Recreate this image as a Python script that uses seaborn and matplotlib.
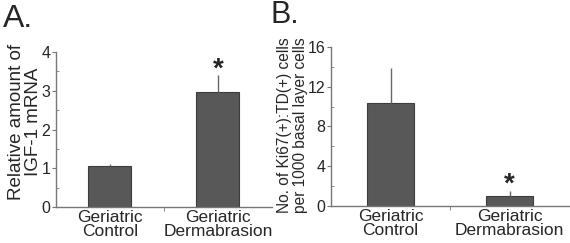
import numpy as np
import pandas as pd
import seaborn as sns
import matplotlib.pyplot as plt
from matplotlib.ticker import MultipleLocator

groups = ["Geriatric\nControl", "Geriatric\nDermabrasion"]
igf1_mean = [1.05, 2.97]
igf1_err = [0.05, 0.43]
ki67_mean = [10.35, 1.05]
ki67_err = [3.55, 0.45]
sig = ["", "*"]

sns.set_style("ticks")
plt.rcParams["font.family"] = ["Liberation Sans", "DejaVu Sans"]

bar_color = "#585858"
edge_color = "#3c3c3c"
axis_color = "#777777"

fig = plt.figure(figsize=(5.7, 2.43), dpi=100)
ax1 = fig.add_axes([0.098, 0.148, 0.379, 0.638])
ax2 = fig.add_axes([0.581, 0.152, 0.4175, 0.655])


def panel(ax, means, errs, ymax, major, minor):
    df = pd.DataFrame({"group": groups, "value": means})
    sns.barplot(data=df, x="group", y="value", ax=ax, color=bar_color,
                width=0.4, errorbar=None, edgecolor=edge_color, linewidth=0.8,
                saturation=1)
    xs = np.arange(len(means))
    ax.errorbar(xs, means, yerr=[np.zeros(len(errs)), errs], fmt="none",
                ecolor="#666666", elinewidth=1.0, capsize=0)
    for x, m, e, s in zip(xs, means, errs, sig):
        if s:
            ax.annotate(s, (x, m + e), xytext=(0, -5), textcoords="offset points",
                        ha="center", va="bottom", fontsize=20, fontweight="bold")
    ax.set_xlim(-0.5, 1.5)
    ax.set_ylim(0, ymax)
    ax.yaxis.set_major_locator(MultipleLocator(major))
    ax.yaxis.set_minor_locator(MultipleLocator(minor))
    ax.set_xticks([0.5], minor=True)
    ax.tick_params(axis="x", which="major", length=0, labelsize=12.5, pad=2)
    ax.tick_params(axis="x", which="minor", length=3, direction="out", color=axis_color)
    ax.tick_params(axis="y", which="major", length=3, labelsize=11.5, pad=1, color=axis_color)
    ax.tick_params(axis="y", which="minor", length=2, direction="in", color=axis_color)
    for lbl in ax.get_xticklabels():
        lbl.set_linespacing(0.9)
    ax.set_xlabel("")
    ax.set_ylabel("")
    sns.despine(ax=ax, top=True, right=True)
    for sp in ("left", "bottom"):
        ax.spines[sp].set_color(axis_color)
        ax.spines[sp].set_linewidth(1.0)


panel(ax1, igf1_mean, igf1_err, 4, 1, 0.5)
panel(ax2, ki67_mean, ki67_err, 16, 4, 2)

fig.text(0.043, 1 - 122 / 243, "Relative amount of\nIGF-1 mRNA", rotation=90,
         ha="center", va="center", multialignment="center", fontsize=13.5,
         linespacing=1.0)
fig.text(0.513, 1 - 213 / 243, "No. of Ki67(+):TD(+) cells\nper 1000 basal layer cells",
         rotation=90, ha="center", va="bottom", multialignment="left", fontsize=11.2,
         linespacing=1.05)

fig.text(0.005, 0.985, "A.", fontsize=23, ha="left", va="top")
fig.text(0.475, 1.0, "B.", fontsize=22, ha="left", va="top")

fig.savefig("out.png", dpi=100, facecolor="white")
